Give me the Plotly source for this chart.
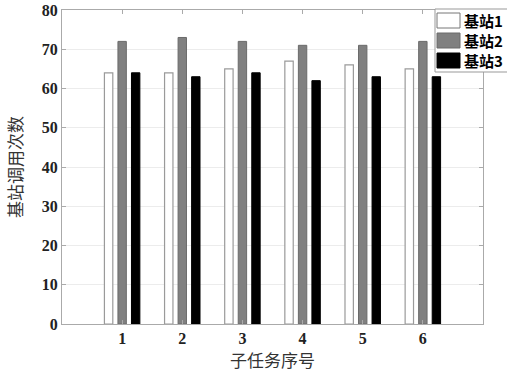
import plotly.graph_objects as go

# Sub-task indices and call counts per base station
tasks = [1, 2, 3, 4, 5, 6]
station1 = [64, 64, 65, 67, 66, 65]
station2 = [72, 73, 72, 71, 71, 72]
station3 = [64, 63, 64, 62, 63, 63]
names = ["基站1", "基站2", "基站3"]
y_ticks = [0, 10, 20, 30, 40, 50, 60, 70, 80]

W, H = 507, 380
L, R, T, B = 62, 24, 10, 56
pw, ph = W - L - R, H - T - B

num_font = dict(family="Liberation Serif", size=16, color="#222222")
cjk_font = dict(family="Noto Sans CJK SC", size=17, color="#333333")

styles = [
    dict(color="white", line=dict(color="#9a9a9a", width=1.2)),
    dict(color="#808080", line=dict(color="#6a6a6a", width=1)),
    dict(color="black", line=dict(color="black", width=1)),
]

fig = go.Figure()
for name, vals, st in zip(names, [station1, station2, station3], styles):
    fig.add_trace(go.Bar(x=tasks, y=vals, name=name, marker=st, showlegend=False))


def px_x(p):
    return (p - L) / pw


def px_y(p):
    return (H - B - p) / ph


# legend box in the upper-right corner, drawn in paper coordinates
shapes = [dict(type="rect", xref="paper", yref="paper",
               x0=px_x(435), x1=px_x(520), y0=px_y(72), y1=px_y(9),
               fillcolor="white", line=dict(color="#999999", width=1), layer="above")]
annotations = []
for i, (name, st) in enumerate(zip(names, styles)):
    top = 13 + i * 20
    shapes.append(dict(type="rect", xref="paper", yref="paper",
                       x0=px_x(437), x1=px_x(460), y0=px_y(top + 15), y1=px_y(top),
                       fillcolor=st["color"], line=dict(color="#777777" if i == 0 else st["line"]["color"], width=1),
                       layer="above"))
    annotations.append(dict(xref="paper", yref="paper", x=px_x(462), y=px_y(top + 7.5),
                            xanchor="left", yanchor="middle", showarrow=False, text=f"<b>{name}</b>",
                            font=dict(family="Noto Sans CJK SC", size=15, color="black")))

fig.update_layout(
    width=W, height=H,
    margin=dict(l=L, r=R, t=T, b=B, autoexpand=False),
    paper_bgcolor="white", plot_bgcolor="white",
    barmode="group", bargap=0.325, bargroupgap=0.38,
    font=num_font, shapes=shapes, annotations=annotations,
)
fig.update_xaxes(
    range=[0, 7], tickmode="array", tickvals=tasks, ticktext=[f"<b>{t}</b>" for t in tasks],
    ticks="inside", ticklen=4, tickcolor="#aaaaaa", mirror="ticks",
    showline=True, linecolor="#aaaaaa", linewidth=1, showgrid=False,
    tickfont=num_font,
    title=dict(text="子任务序号", font=cjk_font, standoff=6),
)
fig.update_yaxes(
    range=[0, 80], tickmode="array", tickvals=y_ticks, ticktext=[f"<b>{v}</b>" for v in y_ticks],
    ticks="inside", ticklen=4, tickcolor="#aaaaaa", mirror="ticks",
    showline=True, linecolor="#aaaaaa", linewidth=1,
    showgrid=True, gridcolor="#ececec", gridwidth=1, zeroline=False,
    tickfont=num_font,
    title=dict(text="基站调用次数", font=cjk_font, standoff=14),
)

fig.write_html("out.html")
